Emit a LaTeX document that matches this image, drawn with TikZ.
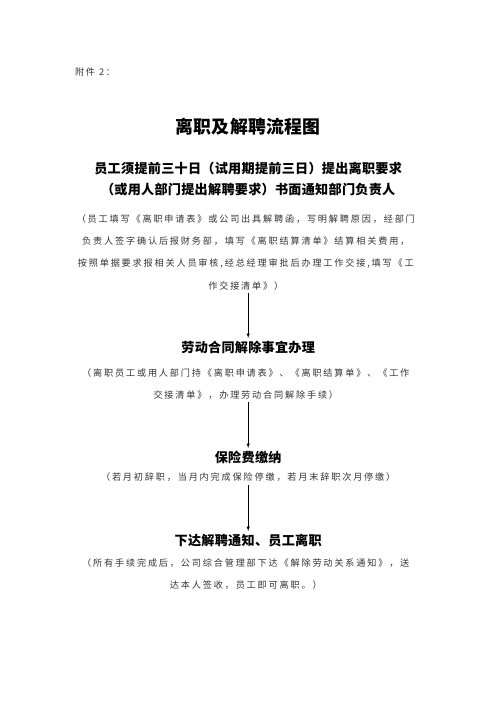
\documentclass[tikz,border=0pt]{standalone}
\usepackage{fontspec}
\setmainfont{Noto Sans CJK SC}[LetterSpace=20]
\newfontfamily\headfont{Noto Sans CJK SC}[LetterSpace=2]
\usepackage{tikz}
\usetikzlibrary{positioning,arrows}
\tikzstyle{ttl}=[font={\headfont\bfseries\fontsize{21.5}{26}\selectfont}]
\tikzstyle{head}=[font={\headfont\bfseries\fontsize{15.8}{25.2}\selectfont}, align=center]
\tikzstyle{desc}=[font={\fontsize{11}{26.8}\selectfont}, text=black!80, align=center]
\begin{document}
\begin{tikzpicture}[node distance=2cm,auto,>=latex]
\useasboundingbox (0,0) rectangle (21,-29.7);
\node[desc, anchor=west] at (3.05,-3.05) (annex) {附件 2：};
\node[ttl] at (10.5,-5.377) (title) {离职及解聘流程图};

\node[head, below of = title, node distance = 2.18cm] (notice) {员工须提前三十日（试用期提前三日）提出离职要求\\（或用人部门提出解聘要求）书面通知部门负责人};
\node[desc, below of = notice, node distance = 3.112cm, xshift = -0.1cm] (noticetxt) {（员工填写《离职申请表》或公司出具解聘函，写明解聘原因，经部门\\负责人签字确认后报财务部，填写《离职结算清单》结算相关费用，\\按照单据要求报相关人员审核,经总经理审批后办理工作交接,填写《工\\作交接清单》）};

\node[head, below of = noticetxt, node distance = 4.022cm, xshift = 0.1cm] (contract) {劳动合同解除事宜办理};
\node[desc, below of = contract, node distance = 1.545cm, xshift = -0.1cm] (contracttxt) {（离职员工或用人部门持《离职申请表》、《离职结算单》、《工作\\交接清单》，办理劳动合同解除手续）};

\node[head, below of = contracttxt, node distance = 3.112cm, xshift = 0.1cm] (insur) {保险费缴纳};
\node[desc, below of = insur, node distance = 0.847cm] (insurtxt) {（若月初辞职，当月内完成保险停缴，若月末辞职次月停缴）};

\node[head, below of = insurtxt, node distance = 2.667cm] (leave) {下达解聘通知、员工离职};
\node[desc, below of = leave, node distance = 1.418cm, xshift = -0.1cm] (leavetxt) {（所有手续完成后，公司综合管理部下达《解除劳动关系通知》，送\\达本人签收，员工即可离职。）};

\draw[->, line width = 0.8pt] (noticetxt.south -| contract) -- (contract);
\draw[->, line width = 0.8pt] (contracttxt.south -| insur) -- (insur);
\draw[->, line width = 0.8pt] (insurtxt) -- (leave);
\end{tikzpicture}
\end{document}
